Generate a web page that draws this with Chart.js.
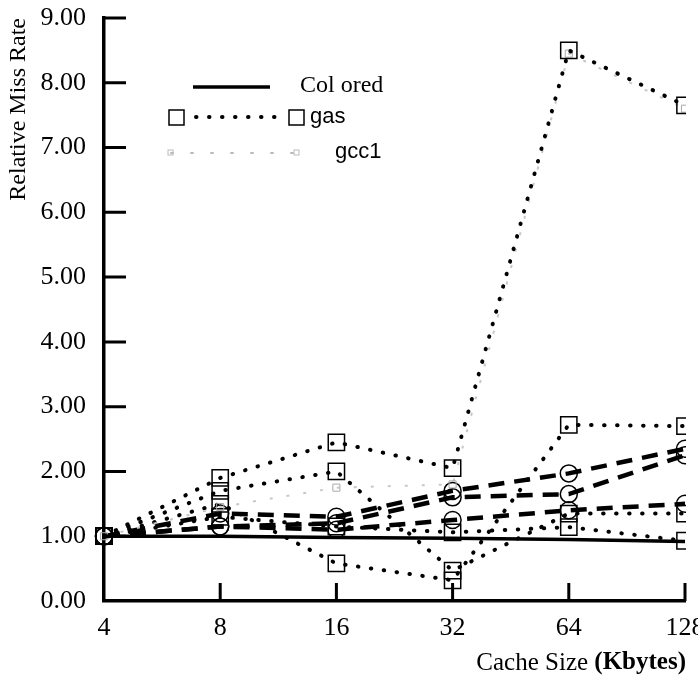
<!DOCTYPE html>
<html>
<head>
<meta charset="utf-8">
<script src="https://cdn.jsdelivr.net/npm/chart.js@4/dist/chart.umd.min.js"></script>
<style>
    html, body { margin: 0; padding: 0; background: #fff; }
</style>
</head>
<body>
<canvas id="chart" width="698" height="682"></canvas>
<script>
// Cache sizes (Kbytes), log2 steps
const cacheSizes = ['4', '8', '16', '32', '64', '128'];

// Relative miss rate per benchmark
const colored = [1.00, 1.00, 0.98, 0.97, 0.95, 0.92];
const gas = [1.00, 1.90, 2.45, 2.05, 8.50, 7.65];
const gcc1 = [1.00, 1.45, 1.75, 1.80, 8.45, 7.60];
const dotted2 = [1.00, 1.70, 2.00, 0.47, 1.35, 1.35];
const dotted3 = [1.00, 1.50, 0.58, 0.32, 2.72, 2.70];
const dotted4 = [1.00, 1.30, 1.15, 1.06, 1.14, 0.93];
const dashed1 = [1.00, 1.35, 1.30, 1.70, 1.97, 2.35];
const dashed2 = [1.00, 1.15, 1.20, 1.60, 1.65, 2.25];
const dashed3 = [1.00, 1.15, 1.10, 1.25, 1.40, 1.50];

const legendLabels = ['Col ored', 'gas', 'gcc1'];
const xTitle = ['Cache Size ', '(Kbytes)'];

const serif = '"Liberation Serif", "Times New Roman", serif';
const sans = '"Liberation Sans", Arial, sans-serif';

// markers cut at the right edge like the scan
const edgeClip = { left: 10, right: 1, top: 20, bottom: 20 };

function dottedSet(label, data) {
    return {
        label: label,
        data: data,
        clip: edgeClip,
        borderColor: '#000',
        borderWidth: 4,
        borderDash: [0.5, 12.5],
        borderCapStyle: 'round',
        pointStyle: 'rect',
        pointRadius: 11.5,
        pointBorderWidth: 1.5,
        pointBorderColor: '#000',
        pointBackgroundColor: 'rgba(0,0,0,0)',
    };
}

function dashedSet(label, data) {
    return {
        label: label,
        data: data,
        clip: edgeClip,
        borderColor: '#000',
        borderWidth: 4.5,
        borderDash: [16, 10],
        pointStyle: 'circle',
        pointRadius: 8.5,
        pointBorderWidth: 1.5,
        pointBorderColor: '#000',
        pointBackgroundColor: 'rgba(0,0,0,0)',
    };
}

// Inward tick marks like the original plot
const innerTicks = {
    id: 'innerTicks',
    afterDraw(chart) {
        const ctx = chart.ctx;
        const x = chart.scales.x;
        const y = chart.scales.y;
        ctx.save();
        ctx.strokeStyle = '#000';
        ctx.lineWidth = 3;
        ctx.beginPath();
        for (let v = 1; v <= 9; v++) {
            let py = y.getPixelForValue(v);
            ctx.moveTo(x.left, py);
            ctx.lineTo(x.left + 22, py);
        }
        for (let i = 1; i < cacheSizes.length; i++) {
            let px = x.getPixelForValue(i);
            ctx.moveTo(px, y.bottom);
            ctx.lineTo(px, y.bottom - 18);
        }
        ctx.stroke();

        // x title, with the bold unit
        ctx.fillStyle = '#000';
        ctx.textBaseline = 'middle';
        ctx.textAlign = 'right';
        ctx.font = 'bold 25px ' + serif;
        let right = x.right + 1;
        ctx.fillText(xTitle[1], right, 663);
        let w = ctx.measureText(xTitle[1]).width;
        ctx.font = '25px ' + serif;
        ctx.fillText(xTitle[0], right - w, 663);
        ctx.restore();
    },
};

// Legend drawn inside the plot, as in the paper
const paperLegend = {
    id: 'paperLegend',
    afterDraw(chart) {
        const ctx = chart.ctx;
        ctx.save();
        ctx.textBaseline = 'middle';
        ctx.fillStyle = '#000';

        // Colored
        ctx.strokeStyle = '#000';
        ctx.lineWidth = 3.5;
        ctx.beginPath();
        ctx.moveTo(193, 87);
        ctx.lineTo(270, 87);
        ctx.stroke();
        ctx.font = '24px ' + serif;
        ctx.fillText(legendLabels[0], 300, 86);

        // gas
        ctx.lineWidth = 1.5;
        ctx.strokeRect(169, 110, 15, 15);
        ctx.strokeRect(289, 110, 15, 15);
        ctx.lineWidth = 4;
        ctx.lineCap = 'round';
        ctx.setLineDash([0.5, 12.5]);
        ctx.beginPath();
        ctx.moveTo(196, 117);
        ctx.lineTo(286, 117);
        ctx.stroke();
        ctx.font = '22px ' + sans;
        ctx.fillText(legendLabels[1], 310, 117);

        // gcc1
        ctx.strokeStyle = '#bbb';
        ctx.lineWidth = 2;
        ctx.setLineDash([2, 18]);
        ctx.beginPath();
        ctx.moveTo(171, 153);
        ctx.lineTo(298, 153);
        ctx.stroke();
        ctx.setLineDash([]);
        ctx.lineWidth = 1;
        ctx.strokeRect(168, 150, 5, 5);
        ctx.strokeRect(294, 150, 5, 5);
        ctx.fillText(legendLabels[2], 335, 152);
        ctx.restore();
    },
};

new Chart(document.getElementById('chart'), {
    type: 'line',
    data: {
        labels: cacheSizes,
        datasets: [
            {
                label: 'Colored',
                data: colored,
                borderColor: '#000',
                borderWidth: 3.5,
                pointRadius: 0,
            },
            dottedSet('gas', gas),
            {
                label: 'gcc1',
                data: gcc1,
                clip: edgeClip,
                borderColor: '#c8c8c8',
                borderWidth: 2,
                borderDash: [3, 14],
                pointStyle: 'rect',
                pointRadius: 5,
                pointBorderWidth: 1,
                pointBorderColor: '#aaa',
                pointBackgroundColor: 'rgba(0,0,0,0)',
            },
            dottedSet('d2', dotted2),
            dottedSet('d3', dotted3),
            dottedSet('d4', dotted4),
            dashedSet('c1', dashed1),
            dashedSet('c2', dashed2),
            dashedSet('c3', dashed3),
        ],
    },
    options: {
        responsive: false,
        animation: false,
        elements: { line: { tension: 0 } },
        layout: { padding: { top: 18, right: 13, bottom: 0, left: 0 } },
        plugins: {
            legend: { display: false },
            tooltip: { enabled: false },
        },
        scales: {
            x: {
                grid: { display: false },
                border: { display: true, color: '#000', width: 3.5 },
                ticks: {
                    color: '#000',
                    font: { family: serif, size: 26 },
                    padding: 4,
                    maxRotation: 0,
                    autoSkip: false,
                },
                afterFit(scale) {
                    scale.height = 81;
                    scale.paddingLeft = 0;
                    scale.paddingRight = 0;
                },
            },
            y: {
                min: 0,
                max: 9,
                grid: { display: false },
                border: { display: true, color: '#000', width: 3.5 },
                ticks: {
                    stepSize: 1,
                    color: '#000',
                    font: { family: serif, size: 26 },
                    padding: 10,
                    callback: v => v.toFixed(2),
                },
                title: {
                    display: true,
                    text: 'Relative Miss Rate',
                    align: 'end',
                    color: '#000',
                    font: { family: serif, size: 24 },
                    padding: { top: 4, bottom: 0 },
                },
                afterFit(scale) {
                    scale.width = 104;
                    scale.paddingTop = 0;
                    scale.paddingBottom = 0;
                },
            },
        },
    },
    plugins: [innerTicks, paperLegend],
});
</script>
</body>
</html>
